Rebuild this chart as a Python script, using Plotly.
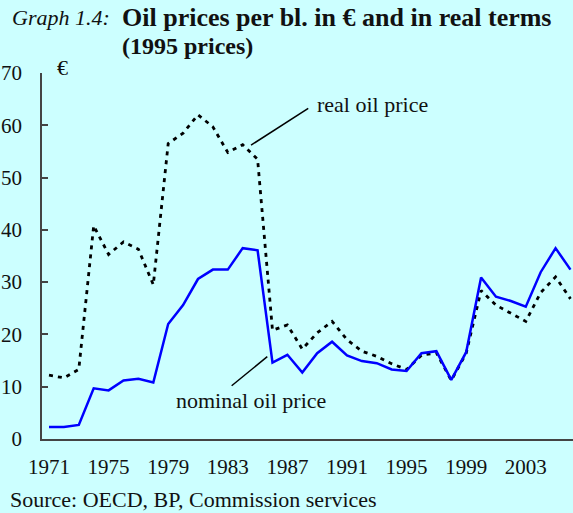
import plotly.graph_objects as go

# ---- data ----
years = list(range(1971, 2007))
nominal_price = [2.3, 2.3, 2.7, 9.7, 9.3, 11.2, 11.5, 10.8, 22.0, 25.6,
                 30.6, 32.4, 32.4, 36.5, 36.1, 14.6, 16.1, 12.7, 16.4, 18.6,
                 16.0, 14.9, 14.5, 13.3, 13.0, 16.4, 16.8, 11.3, 16.6, 30.9,
                 27.2, 26.4, 25.3, 31.9, 36.5, 32.4]
real_price = [12.2, 11.7, 13.3, 40.8, 35.3, 37.7, 36.3, 29.5, 56.5, 58.5,
              62.0, 59.7, 54.8, 56.3, 53.5, 20.8, 21.8, 17.2, 20.3, 22.5,
              19.0, 16.8, 15.8, 14.4, 13.3, 16.0, 16.5, 11.2, 16.4, 28.4,
              25.6, 24.0, 22.5, 28.0, 31.0, 26.8]
year_ticks = [1971, 1975, 1979, 1983, 1987, 1991, 1995, 1999, 2003]
y_ticks = [0, 10, 20, 30, 40, 50, 60, 70]

SERIF = "Liberation Serif, Times New Roman, serif"
BG = "#CCFFFF"
AXC = "#444444"
TXT = "#111111"

fig = go.Figure()
fig.add_trace(go.Scatter(x=years, y=real_price, mode="lines",
                         line=dict(color="black", width=2.8, dash="4px,5px"),
                         name="real oil price"))
fig.add_trace(go.Scatter(x=years, y=nominal_price, mode="lines",
                         line=dict(color="#0000FF", width=2.5),
                         name="nominal oil price"))

fig.update_layout(
    width=573, height=513,
    margin=dict(l=42, r=0, t=73, b=74),
    paper_bgcolor=BG, plot_bgcolor=BG,
    showlegend=False,
    font=dict(family=SERIF, color=TXT, size=21),
    xaxis=dict(range=[1970.53, 2006.17], tickvals=year_ticks,
               ticktext=[str(y) for y in year_ticks],
               showgrid=False, zeroline=False, showline=True,
               linecolor=AXC, linewidth=1.5, ticks="",
               ticklabelstandoff=8, automargin=False,
               tickfont=dict(family=SERIF, size=21, color=TXT)),
    yaxis=dict(range=[0, 70], tickvals=y_ticks,
               showgrid=False, zeroline=False, showline=True,
               linecolor=AXC, linewidth=1.5, ticks="inside", ticklen=6,
               tickwidth=1.5, tickcolor=AXC,
               ticklabelstandoff=14, automargin=False,
               tickfont=dict(family=SERIF, size=21, color=TXT)),
)

# pointer lines for series labels
fig.add_shape(type="line", xref="x", yref="y", x0=1984.56, y0=56.2,
              x1=1988.40, y1=63.24, line=dict(color="black", width=1.5))
fig.add_shape(type="line", xref="x", yref="y", x0=1983.26, y0=10.19,
              x1=1985.65, y1=15.74, line=dict(color="black", width=1.5))

fig.add_annotation(x=1988.85, y=64.0, xref="x", yref="y", text="real oil price",
                   showarrow=False, xanchor="left", yanchor="middle",
                   font=dict(family=SERIF, size=22, color=TXT))
fig.add_annotation(x=1979.41, y=7.34, xref="x", yref="y", text="nominal oil price",
                   showarrow=False, xanchor="left", yanchor="middle",
                   font=dict(family=SERIF, size=22, color=TXT))

# unit label
fig.add_annotation(x=0.0386, y=1.015, xref="paper", yref="paper", text="€",
                   showarrow=False, xanchor="center", yanchor="middle",
                   font=dict(family=SERIF, size=22, color=TXT))

# title
fig.add_annotation(x=-0.0603, y=1.1515, xref="paper", yref="paper",
                   text="<i>Graph 1.4:</i>", showarrow=False,
                   xanchor="left", yanchor="middle",
                   font=dict(family=SERIF, size=22, color=TXT))
fig.add_annotation(x=0.1469, y=1.1515, xref="paper", yref="paper",
                   text="<b>Oil prices per bl. in € and in real terms</b>",
                   showarrow=False, xanchor="left", yanchor="middle",
                   font=dict(family=SERIF, size=26, color=TXT))
fig.add_annotation(x=0.1469, y=1.075, xref="paper", yref="paper",
                   text="<b>(1995 prices)</b>",
                   showarrow=False, xanchor="left", yanchor="middle",
                   font=dict(family=SERIF, size=24, color=TXT))

# source
fig.add_annotation(x=-0.064, y=-0.1664, xref="paper", yref="paper",
                   text="Source: OECD, BP, Commission services",
                   showarrow=False, xanchor="left", yanchor="middle",
                   font=dict(family=SERIF, size=22, color=TXT))

fig.write_html("out.html",
               config={"displayModeBar": False},
               post_script="document.body.style.margin='0';"
                           "document.body.style.overflow='hidden';")
